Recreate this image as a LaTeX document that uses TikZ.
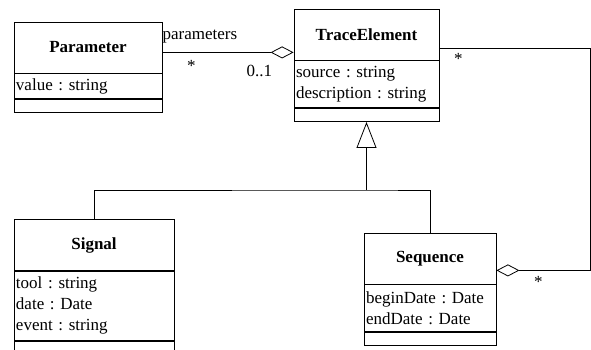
\documentclass[tikz,border=0pt]{standalone}
\usepackage{fontspec}
\setmainfont{Liberation Serif}
\usetikzlibrary{positioning,arrows.meta,calc}
\frenchspacing

\newcommand{\classfont}{\fontsize{17}{21}\selectfont}

\tikzset{
  classhead/.style={draw, line width=0.8pt, minimum height=51pt, inner sep=0pt, font=\classfont\bfseries},
  classattr/.style={draw, line width=0.8pt, align=left, inner xsep=2pt, inner ysep=0pt, font=\classfont},
  classops/.style={draw, line width=0.8pt, minimum height=13pt, inner sep=0pt},
  mult/.style={inner sep=1pt, font=\classfont},
  link/.style={line width=0.8pt},
  aggr/.style={link, {Diamond[open,length=23pt,width=12pt]}-},
  inherit/.style={link, -{Triangle[open,length=26pt,width=20pt]}},
}

\begin{document}
\begin{tikzpicture}[x=1pt, y=1pt]
\useasboundingbox (0,0) rectangle (591,350);

\node[classhead, minimum width=148pt] (paramH) at (88,302.5) {Parameter};
\node[classattr, text width=144pt, minimum height=25pt, below=0pt of paramH] (paramA) {value : string};
\node[classops, minimum width=148pt, below=0pt of paramA] (paramO) {};

\node[classhead, minimum width=145pt] (traceH) at (366.5,315.5) {TraceElement};
\node[classattr, text width=141pt, minimum height=47pt, below=0pt of traceH] (traceA) {source : string\\description : string};
\node[classops, minimum width=145pt, below=0pt of traceA] (traceO) {};

\node[classhead, minimum width=160pt] (sigH) at (94,105) {Signal};
\node[classattr, text width=156pt, minimum height=69pt, below=0pt of sigH] (sigA) {tool : string\\date : Date\\event : string};
\node[classops, minimum width=160pt, below=0pt of sigA] (sigO) {};

\node[classhead, minimum width=132pt] (seqH) at (430,91.5) {Sequence};
\node[classattr, text width=128pt, minimum height=47pt, below=0pt of seqH] (seqA) {beginDate : Date\\endDate : Date};
\node[classops, minimum width=132pt, below=0pt of seqA] (seqO) {};

\coordinate (paramPin) at ($(traceH.south west)+(0,8)$);
\draw[aggr] (paramPin) -- (paramPin -| paramH.east)
  node[mult, pos=0.78, below=7pt] (starParam) {*}
  node[mult, pos=0.26, below=11pt] (multTrace) {0..1};
\node[mult, anchor=base west] (roleParam) at ($(paramH.east)+(-1,7.5)$) {parameters};

\coordinate (tracePin) at ($(traceH.south east)+(0,12)$);
\coordinate (seqPin) at ($(seqH.south east)+(0,14)$);
\draw[aggr] (seqPin) -- ++(94,0) |- (tracePin);
\node[mult] (starTrace) at ($(tracePin)+(19,-11)$) {*};
\node[mult] (starSeq) at ($(seqPin)+(42,-12)$) {*};

\coordinate (fork) at ($(traceO.south)+(0,-68)$);
\draw[link] (sigH.north) |- (fork) -| (seqH.north);
\draw[inherit] (fork) -- (traceO.south);
\end{tikzpicture}
\end{document}
